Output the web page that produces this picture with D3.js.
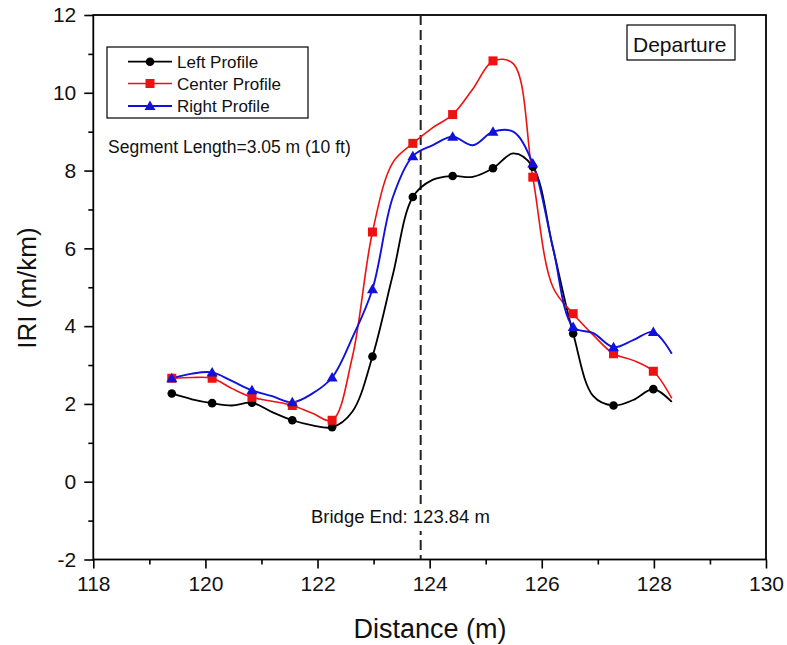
<!DOCTYPE html>
<html>
<head>
<meta charset="utf-8">
<script src="https://cdn.jsdelivr.net/npm/d3@7"></script>
<style>
  html, body { margin: 0; padding: 0; background: #fff; }
  svg { display: block; font-family: "Liberation Sans", Arial, sans-serif; }
</style>
</head>
<body>
<svg id="chart" width="787" height="645"></svg>
<script>
// ---- data ----
const distance = [119.40,119.76,120.12,120.47,120.83,121.19,121.55,121.91,122.26,122.62,122.98,123.34,123.70,124.05,124.41,124.77,125.13,125.49,125.84,126.20,126.56,126.92,127.28,127.63,127.99,128.32];
const leftProfile   = [2.27,2.12,2.02,1.96,2.03,1.79,1.58,1.45,1.40,1.80,3.22,5.30,7.32,7.76,7.86,7.84,8.06,8.44,8.10,6.00,3.81,2.20,1.96,2.10,2.38,2.05];
const centerProfile = [2.66,2.68,2.66,2.40,2.17,2.07,1.96,1.76,1.58,3.20,6.42,8.20,8.70,9.10,9.44,10.10,10.82,10.75,7.83,5.00,4.32,3.77,3.29,3.12,2.84,2.14];
const rightProfile  = [2.66,2.78,2.81,2.59,2.35,2.20,2.04,2.27,2.68,3.70,4.95,7.30,8.37,8.65,8.87,8.65,9.00,9.00,8.18,6.02,3.98,3.82,3.46,3.64,3.85,3.29];
const seriesNames = ["Left Profile", "Center Profile", "Right Profile"];
const xTicks = [118,120,122,124,126,128,130];
const xMinorTicks = [119,121,123,125,127,129];
const yTicks = [-2,0,2,4,6,8,10,12];
const yMinorTicks = [-1,1,3,5,7,9,11];
const bridgeEnd = 123.84;
const bridgeLabel = "Bridge End: 123.84 m";
const segmentLabel = "Segment Length=3.05 m (10 ft)";
const panelLabel = "Departure";

// ---- layout ----
const svg = d3.select("#chart");
const L = 93.3, R = 766, T = 15, B = 559.5;
const x = d3.scaleLinear().domain([118,130]).range([L,R]);
const y = d3.scaleLinear().domain([-2,12]).range([B,T]);

const styles = [
  {color:"#000000", marker:"circle", width:1.8},
  {color:"#ee1111", marker:"square", width:1.6},
  {color:"#1111dd", marker:"triangle", width:1.9}
];
const series = [leftProfile, centerProfile, rightProfile];
const fmt = d => String(d);

// axes
const gx = svg.append("g").attr("transform",`translate(0,${B})`);
gx.call(d3.axisBottom(x).tickValues(xTicks).tickSize(9).tickPadding(8).tickFormat(fmt));
const gxm = svg.append("g").attr("transform",`translate(0,${B})`);
gxm.call(d3.axisBottom(x).tickValues(xMinorTicks).tickSize(5).tickFormat(""));
const gy = svg.append("g").attr("transform",`translate(${L},0)`);
gy.call(d3.axisLeft(y).tickValues(yTicks).tickSize(9).tickPadding(8).tickFormat(fmt));
const gym = svg.append("g").attr("transform",`translate(${L},0)`);
gym.call(d3.axisLeft(y).tickValues(yMinorTicks).tickSize(5).tickFormat(""));
[gx,gxm,gy,gym].forEach(g=>{
  g.select(".domain").remove();
  g.selectAll(".tick line").attr("stroke","#000").attr("stroke-width",1.6);
  g.selectAll(".tick text").attr("font-size",21).attr("fill","#111").attr("font-family","'Liberation Sans', Arial, sans-serif");
});

// frame
svg.append("rect").attr("x",L).attr("y",T).attr("width",R-L).attr("height",B-T)
  .attr("fill","none").attr("stroke","#000").attr("stroke-width",1.8);

// bridge-end dashed line
svg.append("line").attr("x1",x(bridgeEnd)).attr("x2",x(bridgeEnd)).attr("y1",T).attr("y2",B)
  .attr("stroke","#222").attr("stroke-width",2).attr("stroke-dasharray","10,5");

// curves
const line = d3.line().x((d,i)=>x(distance[i])).y(d=>y(d)).curve(d3.curveCatmullRom.alpha(0.5));
series.forEach((s,k)=>{
  svg.append("path").attr("d",line(s)).attr("fill","none")
    .attr("stroke",styles[k].color).attr("stroke-width",styles[k].width);
});

function drawMarker(g, type, cx, cy, color){
  if(type==="circle") g.append("circle").attr("cx",cx).attr("cy",cy).attr("r",4.3).attr("fill",color);
  else if(type==="square") g.append("rect").attr("x",cx-4.5).attr("y",cy-4.5).attr("width",9).attr("height",9).attr("fill",color);
  else g.append("path").attr("d",`M${cx},${cy-5.5}L${cx+5.5},${cy+4}L${cx-5.5},${cy+4}Z`).attr("fill",color);
}
const mg = svg.append("g");
series.forEach((s,k)=>{
  s.forEach((v,i)=>{
    if(i%2===0) drawMarker(mg, styles[k].marker, x(distance[i]), y(v), styles[k].color);
  });
});

// legend
const lg = svg.append("g");
lg.append("rect").attr("x",107).attr("y",47).attr("width",201).attr("height",71)
  .attr("fill","#fff").attr("stroke","#000").attr("stroke-width",1.2);
const rowY = [61.7, 83.5, 106];
seriesNames.forEach((n,k)=>{
  lg.append("line").attr("x1",128).attr("x2",172).attr("y1",rowY[k]).attr("y2",rowY[k])
    .attr("stroke",styles[k].color).attr("stroke-width",styles[k].width);
  drawMarker(lg, styles[k].marker, 150, rowY[k], styles[k].color);
  lg.append("text").attr("x",177).attr("y",rowY[k]).attr("dy","0.36em")
    .attr("font-size",17).attr("fill","#111").text(n);
});

// panel label
svg.append("rect").attr("x",627).attr("y",25).attr("width",108).attr("height",35)
  .attr("fill","#fff").attr("stroke","#000").attr("stroke-width",1.2);
svg.append("text").attr("x",633).attr("y",51.5).attr("font-size",21).attr("fill","#111").text(panelLabel);

// segment text
svg.append("text").attr("x",108).attr("y",153).attr("font-size",17.5).attr("fill","#111").text(segmentLabel);

// bridge end text with white background
const bgroup = svg.append("g");
const bgRect = bgroup.append("rect").attr("fill","#fff");
const bt = bgroup.append("text").attr("x",311).attr("y",523).attr("font-size",18.5).attr("fill","#111").text(bridgeLabel);
const bb = bt.node().getBBox();
bgRect.attr("x",bb.x-2).attr("y",bb.y-2).attr("width",bb.width+4).attr("height",bb.height+6);

// axis titles
svg.append("text").attr("x",430).attr("y",638).attr("text-anchor","middle")
  .attr("font-size",27).attr("fill","#111").text("Distance (m)");
svg.append("text").attr("transform","translate(27,288) rotate(-90)").attr("text-anchor","middle")
  .attr("dy","0.36em").attr("font-size",26).attr("fill","#111").text("IRI (m/km)");
</script>
</body>
</html>
